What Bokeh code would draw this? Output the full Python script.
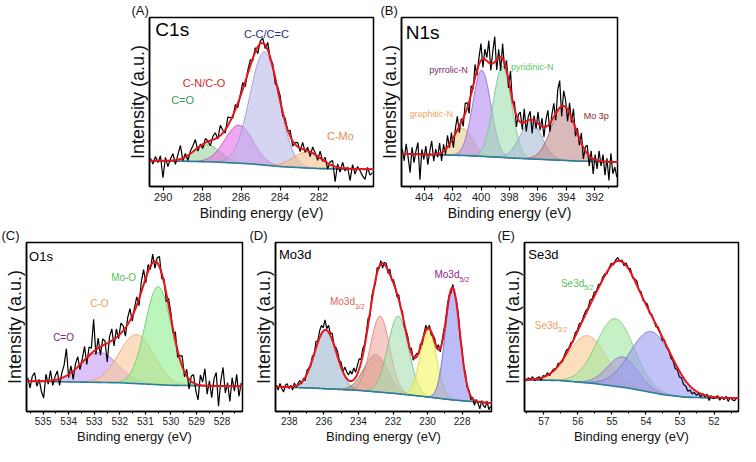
import numpy as np
from bokeh.plotting import figure
from bokeh.models import Range1d, FixedTicker, Label, Spacer
from bokeh.layouts import row, column
from bokeh.embed import file_html
from bokeh.resources import INLINE

FONT = "Liberation Sans"

# ---------------- data (y in % of panel height) ----------------
# (A) C1s
c1s_range = (290.7, 279.2)
c1s_ticks = [290, 288, 286, 284, 282]
c1s_names = ["C=O", "C-N/C-O", "C-C/C=C", "C-Mo"]
c1s_center = [287.75, 286.1, 284.8, 282.6]
c1s_height = [10.0, 22.5, 67.0, 9.5]
c1s_fwhm = [1.6, 1.7, 1.75, 1.7]
c1s_bg_x = [290.7, 287.5, 285.5, 284.0, 282.0, 279.2]
c1s_bg_y = [15.3, 14.6, 13.4, 11.8, 10.6, 10.2]
c1s_resid = [1.5, -2.0, 2.5, -1.0, 3.0, -10.0, 2.0, -3.5, 1.0, 4.0,
             -2.5, 3.0, 8.0, -1.5, 2.0, -3.0, 1.5, 3.5, 6.0, -2.0,
             1.0, -2.5, 2.5, 0.5, -3.0, 2.0, 3.5, -1.0, 6.0, 1.5,
             -2.0, 5.0, 2.0, -1.5, 3.0, -2.5, 1.0, 4.0, -3.0, 2.0,
             3.5, -1.5, 2.5, -4.0, 1.5, 3.0, -2.0, 4.5, -1.0, 2.0,
             -3.5, 1.5, 3.0, -2.5, 2.0, -1.0, 3.5, -3.0, 1.0, 2.5,
             -2.0, 4.0, -1.5, 2.0, -3.0, 3.5, 1.0, -2.5, 4.0, -1.0,
             2.5, -3.5, 1.5, 3.0, -9.0, 2.0, -2.5, 3.5, -1.5, 1.0,
             -7.0, 2.5, -3.0, 1.5, -1.0, -4.0, -6.0, 1.0, -3.5, -2.0]

# (B) N1s
n1s_range = (405.6, 390.4)
n1s_ticks = [404, 402, 400, 398, 396, 394, 392]
n1s_names = ["graphitic-N", "pyrrolic-N", "pyridinic-N", "N-x", "Mo 3p"]
n1s_center = [401.3, 399.95, 398.5, 396.5, 394.2]
n1s_height = [16.0, 51.0, 54.0, 22.0, 32.0]
n1s_fwhm = [1.6, 1.5, 1.5, 1.8, 2.0]
n1s_bg_x = [405.6, 401.0, 397.0, 393.0, 390.4]
n1s_bg_y = [19.3, 18.3, 16.5, 15.0, 14.5]
n1s_resid = [3, -4, 6, -2, -11, 4, -5, 2, 7, -15,
             3, -3, 5, -6, 2, 8, -4, 3, -2, 6,
             -5, 4, -3, 7, -2, 5, -6, 3, 8, -4,
             2, -5, 6, 3, -7, 5, -2, 8, -3, 4,
             10, -5, 6, 2, 13, -4, 7, 15, -6, 5,
             -8, 9, -3, 6, -5, 11, -2, 4, -7, 3,
             6, -4, 8, -6, 2, 5, -8, 3, -4, 7,
             -3, 5, -6, 4, 9, -5, 3, 8, -4, 12,
             16, -6, 9, 4, -7, 6, -3, 8, -5, 3,
             -4, 6, -7, 2, 5, -6, 4, -9, 3, -5,
             6, -3, 4, -8, 2, -11, 5, -7, -3, -9]

# (C) O1s
o1s_range = (535.65, 527.2)
o1s_ticks = [535, 534, 533, 532, 531, 530, 529, 528]
o1s_names = ["C=O", "C-O", "Mo-O"]
o1s_center = [532.8, 531.35, 530.5]
o1s_height = [17.7, 29.0, 58.0]
o1s_fwhm = [1.7, 1.6, 1.2]
o1s_bg_x = [535.65, 532.0, 530.0, 527.2]
o1s_bg_y = [18.0, 17.0, 15.5, 14.9]
o1s_resid = [2, -4, 3, 5, -3, 1, -6, -10, 4, -2,
             6, -3, 2, 5, -4, 3, 7, 16, -2, 4,
             -5, 3, 6, -3, 2, 8, -4, 5, 3, 19,
             -3, 6, -5, 4, 2, -11, 3, 7, -4, 5,
             -2, 6, 3, -5, 4, 7, -3, 2, 5, -4,
             6, 9, -3, 4, -2, 5, -4, 3, 6, -3,
             2, -5, 4, 3, -2, 5, -4, 2, 6, -3,
             4, -6, 3, 5, -4, -9, 6, 2, 10, -5,
             3, -7, 4, 8, -12, 3, 11, -4, 2, -9,
             5, -3, 7, -6, 2]

# (D) Mo3d
mo3d_range = (238.8, 226.3)
mo3d_ticks = [238, 236, 234, 232, 230, 228]
mo3d_center = [235.9, 233.0, 232.75, 231.7, 229.95, 228.55]
mo3d_height = [34.8, 22.0, 45.0, 46.0, 40.0, 66.0]
mo3d_fwhm = [1.5, 1.6, 1.3, 1.4, 1.1, 1.0]
mo3d_bg_x = [238.8, 236.5, 234.0, 232.0, 230.5, 228.5, 226.3]
mo3d_bg_y = [14.7, 13.8, 12.5, 10.8, 9.2, 6.8, 5.0]
mo3d_resid = [1, -2, 2, -1, -3, 1, 2, -1, 1, -2,
              2, -1, 1, 2, -1, 1, -2, 2, 1, -1,
              2, -1, 4, 1, 4, 5, 2, 6, 1, 4,
              1, 4, 0, 2, 3, 1, 3, 0, 5, 4,
              3, 6, 4, 7, 3, 5, 6, 2, 4, 1,
              2, 4, -2, 3, 1, -2, 3, -1, 2, -3,
              1, 2, -2, 3, -1, 2, 1, -2, 3, -1,
              2, -2, 1, 2, -1, 3, -2, 1, 2, -1,
              2, -2, 1, 3, -1, 2, -2, 1, 2, -1,
              3, -2, 1, 2, -1, 2, 1, -2, 2, -1,
              1, 2, -2, 1, -1, 2, -1, 1, -2, 1,
              -3, 1, -1, -4, 1, -2, -3, 1, -4, -2]

# (E) Se3d
se3d_range = (57.57, 51.28)
se3d_ticks = [57, 56, 55, 54, 53, 52]
se3d_center = [55.72, 54.9, 54.68, 53.84]
se3d_height = [28.0, 40.0, 18.0, 36.0]
se3d_fwhm = [1.3, 1.3, 1.06, 1.46]
se3d_bg_x = [57.57, 56.5, 55.5, 54.5, 53.5, 52.8, 51.28]
se3d_bg_y = [18.8, 18.3, 16.5, 13.8, 10.0, 8.4, 7.8]
se3d_resid = [-1, 1, 0, 1.5, -1, 0.5, 1, -1.5, 1, 0,
              1.5, -1, 0.5, 1, -0.5, 1.5, 0, -1, 1, 2,
              0.5, 1.5, -0.5, 2, 1, 2.5, 0, 1.5, 2, 0.5,
              3, 1, 2.5, 0.5, 2, -0.5, 1.5, 1, -1, 0.5,
              1.5, -1, 1, 2, -0.5, 1, -1.5, 1.5, 0, 2,
              -1, 1, 2.5, -0.5, 1.5, -1, 0.5, 2, -1, 1,
              0, -1.5, 1, 0.5, -2, 1, -1, 0.5, -2, -1,
              -3, -1.5, -3.5, -2, -4, -3, -4.5, -2.5, -3.5, -1.5,
              -2.5, -0.5, -2, 0.5, -1, 1, -2.5, 0.5, -1, 0,
              1, -1.5, 0.5, -1, 1, -2, 0.5, -1, -1.5, 0.5]

# ---------------- styles ----------------
c1s_fill = ["#9bd49b", "#e46ee8", "#b9b9e8", "#f5c08a"]
c1s_line = ["#5fae5f", "#c040c0", "#9a9ad0", "#e8a060"]
n1s_fill = ["#e9cf8a", "#b48cf0", "#9ee0b0", "#a9bcd6", "#c08a8a"]
n1s_line = ["#d4b060", "#9a6ad8", "#70c890", "#8aa0c0", "#a06060"]
o1s_fill = ["#c79af5", "#f9c89a", "#8fef8f"]
o1s_line = ["#a070e0", "#eba060", "#60d060"]
mo3d_fill = ["#9fb7d0", "#b09070", "#f0a8a0", "#a8e0b0", "#f5f560", "#9090f0"]
mo3d_line = ["#7090b0", "#907050", "#e08080", "#70c080", "#d8d840", "#6a6ad8"]
se3d_fill = ["#f9c98f", "#a0e8a0", "#b09ae0", "#9a9af0"]
se3d_line = ["#eaa860", "#70c870", "#8870c8", "#7070d8"]


def gauss(x, c, h, w):
    s = w / 2.3548
    return h * np.exp(-0.5 * ((x - c) / s) ** 2)


def panel(label, label_off, xr, majors, minors, fw, fh, bl, br, bt, bb,
          tick_fs, xlab_fs, ylab_fs, tick_out):
    p = figure(width=bl + fw + br, height=bt + fh + bb,
               x_range=Range1d(*xr), y_range=Range1d(0, 100),
               output_backend="svg", toolbar_location=None,
               min_border_left=bl, min_border_right=br,
               min_border_top=bt, min_border_bottom=bb)
    p.background_fill_color = "white"
    p.border_fill_color = "white"
    p.xgrid.visible = False
    p.ygrid.visible = False
    p.outline_line_color = "black"
    p.outline_line_width = 1.5
    p.title.text = label
    p.title.align = "left"
    p.title.offset = label_off
    p.title.standoff = 0
    p.title.text_font = FONT
    p.title.text_font_style = "normal"
    p.title.text_font_size = "13px"
    p.title.text_color = "#111111"
    xa = p.xaxis[0]
    xa.ticker = FixedTicker(ticks=majors, minor_ticks=minors)
    xa.axis_label = "Binding energy (eV)"
    xa.axis_label_text_font = FONT
    xa.axis_label_text_font_style = "normal"
    xa.axis_label_text_font_size = xlab_fs
    xa.axis_label_text_color = "#111111"
    xa.axis_label_standoff = 1
    xa.major_label_text_font = FONT
    xa.major_label_text_font_size = tick_fs
    xa.major_label_text_color = "#222222"
    xa.major_label_standoff = 2
    xa.major_tick_in = 0
    xa.major_tick_out = tick_out
    xa.minor_tick_in = 0
    xa.minor_tick_out = 2
    xa.axis_line_width = 1.5
    xa.major_tick_line_width = 1.2
    ya = p.yaxis[0]
    ya.ticker = FixedTicker(ticks=[])
    ya.axis_label = "Intensity (a.u.)"
    ya.axis_label_text_font = FONT
    ya.axis_label_text_font_style = "normal"
    ya.axis_label_text_font_size = ylab_fs
    ya.axis_label_text_color = "#111111"
    ya.axis_label_standoff = 2
    ya.major_label_standoff = 0
    ya.major_tick_out = 0
    ya.minor_tick_out = 0
    ya.axis_line_width = 1.5
    return p


def draw_spectrum(p, xr, centers, heights, fwhms, fills, lines, bgx, bgy, resid):
    lo, hi = min(xr), max(xr)
    xf = np.linspace(lo, hi, 500)
    bxf = np.interp(xf, bgx[::-1], bgy[::-1])
    env = bxf.copy()
    for c, h, w, fc, lc in zip(centers, heights, fwhms, fills, lines):
        g = gauss(xf, c, h, w)
        env = env + g
        p.varea(x=xf, y1=bxf, y2=bxf + g, fill_color=fc, fill_alpha=0.6)
        p.line(xf, bxf + g, line_color=lc, line_width=1, line_alpha=0.9)
    p.line(xf, bxf, line_color="#2a7f9a", line_width=1.6)
    xr_raw = np.linspace(max(xr) - 0.05, min(xr) + 0.05, len(resid))
    bxr = np.interp(xr_raw, bgx[::-1], bgy[::-1])
    envr = bxr.copy()
    for c, h, w in zip(centers, heights, fwhms):
        envr = envr + gauss(xr_raw, c, h, w)
    p.line(xr_raw, envr + np.array(resid, dtype=float), line_color="black", line_width=1.2)
    p.line(xf, env, line_color="#e8141c", line_width=2)


def add_label(p, x, y, text, color, size, align="center", sub=None, sub_dx=0):
    p.add_layout(Label(x=x, y=y, text=text, text_color=color, text_font=FONT,
                       text_font_size=size, text_align=align, text_baseline="middle"))
    if sub:
        p.add_layout(Label(x=x, y=y, text=sub, text_color=color, text_font=FONT,
                           text_font_size="7px", text_align="left", text_baseline="top",
                           x_offset=sub_dx, y_offset=-1))


def minors_of(majors, step):
    lo, hi = min(majors) - step, max(majors) + step
    vals = np.arange(lo, hi + 1e-9, step)
    return [float(v) for v in vals]


# ---------------- top row ----------------
pA = panel("(A)", -18, c1s_range, c1s_ticks, minors_of(c1s_ticks, 1.0),
           224, 170, 40, 3, 16, 38, "11px", "14px", "18px", 4)
draw_spectrum(pA, c1s_range, c1s_center, c1s_height, c1s_fwhm, c1s_fill, c1s_line,
              c1s_bg_x, c1s_bg_y, c1s_resid)
add_label(pA, 290.4, 93, "C1s", "black", "19px", align="left")
add_label(pA, 284.7, 90, c1s_names[2], "#2b2b80", "11px")
add_label(pA, 287.9, 61, c1s_names[1], "#e0202a", "11px")
add_label(pA, 289.0, 51, c1s_names[0], "#3a9a5a", "11px")
add_label(pA, 280.9, 30, c1s_names[3], "#f08a50", "11px")

pB = panel("(B)", -21, n1s_range, n1s_ticks, minors_of(n1s_ticks, 1.0),
           216, 170, 25, 3, 16, 38, "11px", "14px", "18px", 4)
draw_spectrum(pB, n1s_range, n1s_center, n1s_height, n1s_fwhm, n1s_fill, n1s_line,
              n1s_bg_x, n1s_bg_y, n1s_resid)
add_label(pB, 405.3, 91, "N1s", "black", "19px", align="left")
add_label(pB, 402.3, 69, n1s_names[1], "#7a1f6e", "9px")
add_label(pB, 396.4, 71, n1s_names[2], "#5ac85a", "9px")
add_label(pB, 403.5, 43, n1s_names[0], "#f0a860", "9px")
add_label(pB, 391.9, 42, n1s_names[4], "#8b2a2a", "9px")

# ---------------- bottom row ----------------
pC = panel("(C)", -25, o1s_range, o1s_ticks, minors_of(o1s_ticks, 0.5),
           216, 169, 26, 3, 18, 35, "10px", "13px", "18px", 3)
draw_spectrum(pC, o1s_range, o1s_center, o1s_height, o1s_fwhm, o1s_fill, o1s_line,
              o1s_bg_x, o1s_bg_y, o1s_resid)
add_label(pC, 535.55, 92, "O1s", "black", "13px", align="left")
add_label(pC, 531.85, 79, o1s_names[2], "#50c050", "10px")
add_label(pC, 532.8, 64, o1s_names[1], "#f0a060", "10px")
add_label(pC, 534.2, 44, o1s_names[0], "#7a1f6e", "10px")

pD = panel("(D)", -26, mo3d_range, mo3d_ticks, minors_of(mo3d_ticks, 1.0),
           216, 169, 30, 3, 18, 35, "10px", "13px", "18px", 3)
draw_spectrum(pD, mo3d_range, mo3d_center, mo3d_height, mo3d_fwhm, mo3d_fill, mo3d_line,
              mo3d_bg_x, mo3d_bg_y, mo3d_resid)
add_label(pD, 238.6, 93, "Mo3d", "black", "13px", align="left")
add_label(pD, 235.65, 65, "Mo3d", "#e06060", "10px", align="left", sub="3/2", sub_dx=25)
add_label(pD, 229.6, 81, "Mo3d", "#8a2a8a", "10px", align="left", sub="5/2", sub_dx=25)

pE = panel("(E)", -27, se3d_range, se3d_ticks, minors_of(se3d_ticks, 0.5),
           214, 169, 30, 2, 18, 35, "10px", "13px", "18px", 3)
draw_spectrum(pE, se3d_range, se3d_center, se3d_height, se3d_fwhm, se3d_fill, se3d_line,
              se3d_bg_x, se3d_bg_y, se3d_resid)
add_label(pE, 57.46, 93, "Se3d", "black", "13px", align="left")
add_label(pE, 56.5, 76, "Se3d", "#60c060", "10px", align="left", sub="5/2", sub_dx=23)
add_label(pE, 57.27, 51, "Se3d", "#f0a060", "10px", align="left", sub="3/2", sub_dx=23)

top = row(Spacer(width=109, height=224), pA, pB)
bottom = row(pC, pD, pE)
layout = column(top, bottom)

open("out.html", "w").write(file_html(layout, INLINE))
